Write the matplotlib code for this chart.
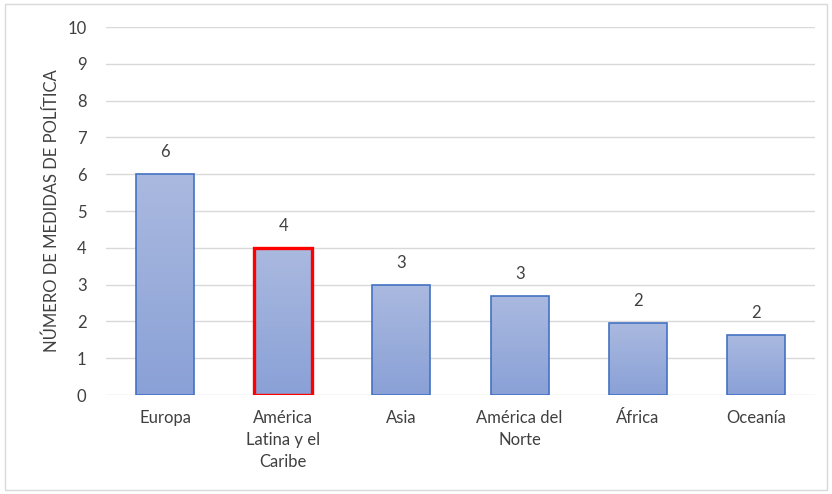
import matplotlib
matplotlib.use('Agg')
import matplotlib.pyplot as plt
import numpy as np
from matplotlib import rcParams
from matplotlib.patches import Rectangle

rcParams['font.family'] = ['Lato', 'DejaVu Sans']
rcParams['font.size'] = 12

# data
regiones = ['Europa', 'América\nLatina y el\nCaribe', 'Asia', 'América del\nNorte', 'África', 'Oceanía']
alturas = [6, 4, 3, 2.7, 1.95, 1.63]
etiquetas = ['6', '4', '3', '3', '2', '2']
resaltada = 1  # bar drawn with red edge

fig = plt.figure(figsize=(8.32, 4.94), dpi=100)
# light frame around the whole chart
fig.patches.append(Rectangle((0.006, 0.008), 0.988, 0.984, transform=fig.transFigure,
                             fill=False, edgecolor='#d9d9d9', linewidth=1))
ax = fig.add_axes([0.1274, 0.2004, 0.8522, 0.7449])

x = np.arange(len(regiones))
ancho = 0.49
grad = np.linspace(0, 1, 256).reshape(-1, 1)
cmap = matplotlib.colors.LinearSegmentedColormap.from_list('g', ['#8aa1d7', '#aab9df'])

for i, (xi, h) in enumerate(zip(x, alturas)):
    borde = '#ff0000' if i == resaltada else '#4472c4'
    lw = 2.4 if i == resaltada else 1.2
    rect = Rectangle((xi - ancho / 2, 0), ancho, h, facecolor='none',
                     edgecolor=borde, linewidth=lw, zorder=3)
    ax.add_patch(rect)
    im = ax.imshow(grad, extent=(xi - ancho / 2, xi + ancho / 2, 0, h), origin='lower',
                   cmap=cmap, aspect='auto', zorder=2)
    im.set_clip_path(rect)
    ax.annotate(etiquetas[i], (xi, h), xytext=(0, 10), textcoords='offset points',
                ha='center', va='bottom', color='#404040')

ax.set_xlim(-0.5, len(regiones) - 0.5)
ax.set_ylim(0, 10)
ax.set_yticks(range(0, 11))
ax.set_xticks(x)
ax.set_xticklabels(regiones, linespacing=1.45, color='#404040', va='top')
for lab in ax.get_yticklabels():
    lab.set_color('#404040')
ax.tick_params(axis='both', length=0)
ax.tick_params(axis='x', pad=11)
ax.tick_params(axis='y', pad=14)
ax.grid(axis='y', color='#d9d9d9', linewidth=1, zorder=0)
ax.set_axisbelow(True)
for s in ax.spines.values():
    s.set_visible(False)
ax.set_ylabel('NÚMERO DE MEDIDAS DE POLÍTICA', color='#404040', labelpad=5)

plt.savefig('out.png', dpi=100)
